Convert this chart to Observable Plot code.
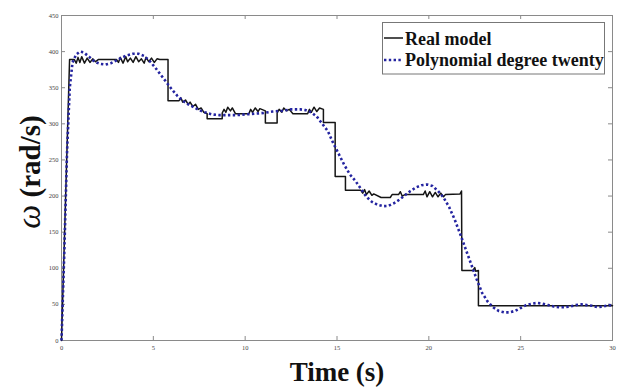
<!DOCTYPE html>
<html>
<head>
<meta charset="utf-8">
<script src="https://cdn.jsdelivr.net/npm/d3@7"></script>
<script src="https://cdn.jsdelivr.net/npm/@observablehq/plot@0.6"></script>
<style>
  html, body { margin: 0; padding: 0; background: #fff; }
  #chart { width: 621px; height: 388px; }
</style>
</head>
<body>
<div id="chart"></div>
<script>
// ---- Data ----
const xTicks = [0, 5, 10, 15, 20, 25, 30];
const yTicks = [0, 50, 100, 150, 200, 250, 300, 350, 400, 450];
const seriesNames = ["Real model", "Polynomial degree twenty"];

// Real model (time s, omega rad/s)
const realT = [0, 0.44, 0.7, 0.8, 0.9, 1.0, 1.1, 1.25, 1.4, 1.55, 1.7, 1.85, 2.0, 3.0, 3.1, 3.2, 3.35, 3.5, 3.6, 3.75, 3.9, 4.05, 4.2, 4.35, 4.5, 4.6, 4.75, 4.9, 5.05, 5.2, 5.35, 5.8,
  5.8, 6.4, 6.5, 6.6, 6.75, 6.9, 7.0, 7.15, 7.3, 7.45, 7.6, 7.75, 7.93, 7.93, 8.75, 8.75, 8.85, 8.95, 9.05, 9.2, 9.3, 9.47, 10.2, 10.3, 10.4, 10.55, 10.7, 10.8, 11.1,
  11.1, 11.74, 11.74, 11.85, 12.0, 12.1, 12.25, 12.4, 12.6, 13.4, 13.5, 13.6, 13.75, 13.9, 14.05, 14.26, 14.26, 14.9, 14.9, 15.46, 15.46, 16.3, 16.4, 16.5, 16.6, 16.75, 16.9, 17.0, 17.4,
  17.9, 18.0, 18.35, 18.45, 18.55, 18.7, 19.7, 19.8, 19.9, 20.05, 20.2, 20.35, 20.5, 20.65, 20.8, 20.9, 21.7, 21.78, 21.8, 22.4, 22.5, 22.55, 22.7, 22.7, 30];
const realV = [0, 389, 389, 384, 392, 385, 393, 384, 391, 385, 390, 386, 389, 389, 385, 392, 384, 393, 386, 391, 385, 393, 386, 390, 384, 392, 386, 391, 385, 390, 389, 389,
  332, 332, 336, 330, 333, 327, 330, 324, 327, 320, 322, 316, 314, 307, 307, 315, 320, 316, 323, 318, 322, 314, 314, 320, 316, 322, 317, 321, 318,
  301, 301, 315, 320, 316, 322, 318, 320, 314, 314, 320, 316, 323, 317, 322, 320, 302, 302, 227, 227, 208, 208, 204, 209, 202, 207, 201, 203, 198,
  198, 202, 202, 206, 200, 202, 202, 207, 199, 206, 199, 205, 199, 204, 199, 202, 203, 207, 97, 97, 101, 96, 97, 48, 48];

// Polynomial degree twenty fit
const polyT = [0, 0.15, 0.3, 0.45, 0.6, 0.8, 1.0, 1.2, 1.5, 1.8, 2.1, 2.4, 2.7, 3.0, 3.3, 3.6, 3.9, 4.2, 4.5, 4.8, 5.1, 5.4, 5.7, 6.0, 6.3, 6.6, 6.9, 7.2, 7.5, 7.8, 8.2, 8.6, 9.0, 9.5, 10, 10.5, 11, 11.5, 12, 12.5, 13, 13.3, 13.6, 13.9, 14.2, 14.5, 14.8, 15.1, 15.4, 15.7, 16.0, 16.3, 16.6, 16.9, 17.2, 17.5, 17.8, 18.1, 18.4, 18.7, 19.0, 19.3, 19.6, 19.9, 20.2, 20.5, 20.8, 21.1, 21.4, 21.7, 22.0, 22.3, 22.6, 22.9, 23.2, 23.5, 23.8, 24.1, 24.4, 24.7, 25.0, 25.3, 25.6, 25.9, 26.2, 26.5, 26.8, 27.1, 27.4, 27.7, 28.0, 28.3, 28.6, 28.9, 29.2, 29.5, 29.8, 30];
const polyV = [0, 120, 260, 350, 385, 396, 400, 399, 393, 386, 383, 382, 384, 388, 392, 395, 397, 397, 394, 387, 378, 368, 358, 348, 339, 332, 327, 323, 319, 316, 313, 312, 312, 312, 313, 314, 315, 317, 318, 320, 320, 319, 316, 310, 300, 290, 273, 258, 243, 230, 221, 210, 199, 192, 188, 186, 186.5, 190, 195, 201, 207, 212, 215, 216, 214, 207, 198, 185, 168, 148, 127, 106, 85, 66, 54, 46, 41, 39, 39, 41, 45, 49, 51, 52, 51, 49, 47, 46, 46, 47, 49, 50, 49, 48, 46, 47, 49, 48];

const real = realT.map((t, i) => ({t, v: realV[i], series: seriesNames[0]}));
const poly = polyT.map((t, i) => ({t, v: polyV[i], series: seriesNames[1]}));

// ---- Chart ----
const W = 621, H = 388, ML = 61, MR = 9, MT = 15, MB = 48;
const innerW = W - ML - MR, innerH = H - MT - MB;
const frameColor = "#8a8a8a";
const blue = "#2424a0";
const dash = "2.4 2.4";

const chart = Plot.plot({
  width: W, height: H,
  marginLeft: ML, marginRight: MR, marginTop: MT, marginBottom: MB,
  x: {domain: [0, 30]},
  y: {domain: [0, 450]},
  style: {fontFamily: "'Liberation Serif', serif", fontSize: "6.5px", background: "#fff", color: "#444", overflow: "visible"},
  marks: [
    Plot.frame({stroke: frameColor}),
    Plot.tickX(xTicks, {x: d => d, insetTop: innerH - 4, stroke: frameColor}),
    Plot.tickX(xTicks, {x: d => d, insetBottom: innerH - 4, stroke: frameColor}),
    Plot.tickY(yTicks, {y: d => d, insetRight: innerW - 4, stroke: frameColor}),
    Plot.tickY(yTicks, {y: d => d, insetLeft: innerW - 4, stroke: frameColor}),
    Plot.line(real, {x: "t", y: "v", stroke: "#151515", strokeWidth: 1.5}),
    Plot.line(poly, {x: "t", y: "v", stroke: blue, strokeWidth: 2.6, strokeDasharray: dash, strokeLinecap: "butt", className: "polyline"}),
    Plot.axisX(xTicks, {tickSize: 0, tickPadding: 5, label: null, fill: "#444"}),
    Plot.axisY(yTicks, {tickSize: 0, tickPadding: 3, label: null, fill: "#444"})
  ]
});
document.getElementById("chart").appendChild(chart);

const svg = d3.select(chart);
// make sure the fit is dotted
svg.selectAll(".polyline path").attr("stroke-dasharray", dash).attr("stroke-linecap", "butt");

// ---- Axis titles and legend ----
const serif = "'Liberation Serif', 'Times New Roman', serif";

svg.append("text")
  .attr("x", ML + innerW / 2 + 0.5).attr("y", 381)
  .attr("text-anchor", "middle")
  .attr("font-family", serif).attr("font-weight", "bold").attr("font-size", 27)
  .attr("fill", "#111")
  .text("Time (s)");

const yt = svg.append("text")
  .attr("transform", "translate(40,172) rotate(-90)")
  .attr("text-anchor", "middle")
  .attr("font-family", serif).attr("fill", "#111");
yt.append("tspan").attr("font-style", "italic").attr("font-size", 34).text("ω");
yt.append("tspan").attr("font-weight", "bold").attr("font-size", 29).text(" (rad/s)");

const lg = svg.append("g");
lg.append("rect").attr("x", 382.5).attr("y", 22.5).attr("width", 222).attr("height", 51.5)
  .attr("fill", "#fff").attr("stroke", "#777").attr("stroke-width", 1);
lg.append("line").attr("x1", 384).attr("x2", 403).attr("y1", 38).attr("y2", 38)
  .attr("stroke", "#151515").attr("stroke-width", 1.5);
lg.append("line").attr("x1", 384).attr("x2", 403).attr("y1", 60).attr("y2", 60)
  .attr("stroke", blue).attr("stroke-width", 2.6).attr("stroke-dasharray", dash);
lg.append("text").attr("x", 405).attr("y", 44.5).attr("text-anchor", "start")
  .attr("font-family", serif).attr("font-weight", "bold").attr("font-size", 18).attr("fill", "#111")
  .text(seriesNames[0]);
lg.append("text").attr("x", 405).attr("y", 66).attr("text-anchor", "start")
  .attr("font-family", serif).attr("font-weight", "bold").attr("font-size", 18).attr("fill", "#111")
  .text(seriesNames[1]);
</script>
</body>
</html>
